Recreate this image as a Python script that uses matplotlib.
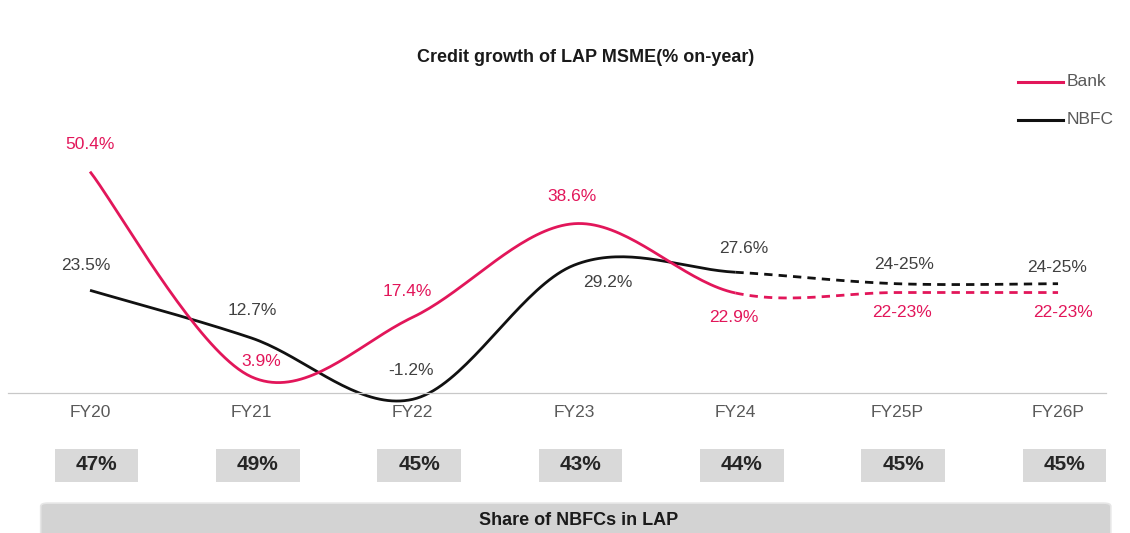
import numpy as np
import matplotlib
matplotlib.use("Agg")
import matplotlib.pyplot as plt
from matplotlib.patches import FancyBboxPatch, Rectangle

plt.rcParams['font.family'] = ['Liberation Sans', 'DejaVu Sans']

years = ["FY20", "FY21", "FY22", "FY23", "FY24", "FY25P", "FY26P"]
bank = [50.4, 3.9, 17.4, 38.6, 22.9, 23.0, 23.0]
nbfc = [23.5, 12.7, -1.2, 29.2, 27.6, 25.0, 25.0]
bank_labels = ["50.4%", "3.9%", "17.4%", "38.6%", "22.9%", "22-23%", "22-23%"]
nbfc_labels = ["23.5%", "12.7%", "-1.2%", "29.2%", "27.6%", "24-25%", "24-25%"]
nbfc_share = ["47%", "49%", "45%", "43%", "44%", "45%", "45%"]
last_actual = 4  # FY24, projections after this

BANK_C = "#e2165a"
NBFC_C = "#111111"


def smooth(xs, ys, n=40):
    # cubic bezier through every point, like a spreadsheet "smoothed line"
    p = np.column_stack([xs, ys]).astype(float)
    p = np.vstack([p[0], p, p[-1]])
    out = []
    for i in range(1, len(p) - 2):
        p0, p1, p2, p3 = p[i - 1], p[i], p[i + 1], p[i + 2]
        c1 = p1 + (p2 - p0) / 6
        c2 = p2 - (p3 - p1) / 6
        t = np.linspace(0, 1, n)[:, None]
        seg = ((1 - t) ** 3) * p1 + 3 * ((1 - t) ** 2) * t * c1 + 3 * (1 - t) * t ** 2 * c2 + t ** 3 * p2
        out.append(seg if i == 1 else seg[1:])
    return np.vstack(out)


fig = plt.figure(figsize=(11.3, 5.33), dpi=100)
ax = fig.add_axes([0, 0, 1, 1])
ax.set_xlim(-0.558, 6.446)
ax.set_ylim(-31.5, 89.3)
ax.axis("off")

x = np.arange(len(years))


def draw_series(vals, color):
    n = 40
    curve = smooth(x, vals, n)
    cut = last_actual * (n - 1) + 1
    ax.plot(curve[:cut, 0], curve[:cut, 1], color=color, lw=2.0, solid_capstyle="butt")
    ax.plot(curve[cut - 1:, 0], curve[cut - 1:, 1], color=color, lw=2.0, ls=(0, (3, 2.2)))


draw_series(nbfc, NBFC_C)
draw_series(bank, BANK_C)

# baseline
ax.plot([-0.51, 6.3], [0.3, 0.3], color="#c8c8c8", lw=0.9)

# data labels (offsets in px, positive = up)
bank_off = [(0, 27), (10, 15), (-5, 26), (-2, 27), (-2, -25), (5, -20), (5, -20)]
nbfc_off = [(-4, 25), (1, 27), (-2, 29), (34, -17), (8, 24), (7, 19), (-1, 16)]
for i in range(len(years)):
    ax.annotate(bank_labels[i], (x[i], bank[i]), xytext=bank_off[i], textcoords="offset pixels",
                ha="center", va="center", fontsize=12.5, color=BANK_C)
    ax.annotate(nbfc_labels[i], (x[i], nbfc[i]), xytext=nbfc_off[i], textcoords="offset pixels",
                ha="center", va="center", fontsize=12.5, color="#404040")

# category labels and NBFC share boxes
for i, yr in enumerate(years):
    ax.text(x[i], -4.2, yr, ha="center", va="center", fontsize=12.5, color="#595959")
    ax.add_patch(Rectangle((x[i] - 0.22, -19.9), 0.52, 7.4, facecolor="#d9d9d9",
                           edgecolor="none"))
    ax.text(x[i] + 0.04, -16.0, nbfc_share[i], ha="center", va="center", fontsize=15,
            fontweight="bold", color="#262626")

# bottom band
band = FancyBboxPatch((0.036, -0.02), 0.947, 0.076, boxstyle="round,pad=0,rounding_size=0.006",
                      transform=fig.transFigure, facecolor="#d3d3d3", edgecolor="#e6e6e6", lw=1.2)
fig.patches.append(band)
fig.text(0.512, 0.024, "Share of NBFCs in LAP", ha="center", va="center", fontsize=13,
         fontweight="bold", color="#1a1a1a")

fig.text(0.518, 0.893, "Credit growth of LAP MSME(% on-year)", ha="center", va="center",
         fontsize=13, fontweight="bold", color="#1a1a1a")

# legend
for j, (name, col) in enumerate([("Bank", BANK_C), ("NBFC", NBFC_C)]):
    yy = 1 - (82 + 38 * j) / 533
    fig.lines.append(plt.Line2D([1018 / 1130, 1063 / 1130], [yy, yy], color=col, lw=2.2,
                                transform=fig.transFigure))
    fig.text(1067 / 1130, yy, name, ha="left", va="center", fontsize=12.5, color="#595959")

fig.savefig("out.png", dpi=100, facecolor="white")
